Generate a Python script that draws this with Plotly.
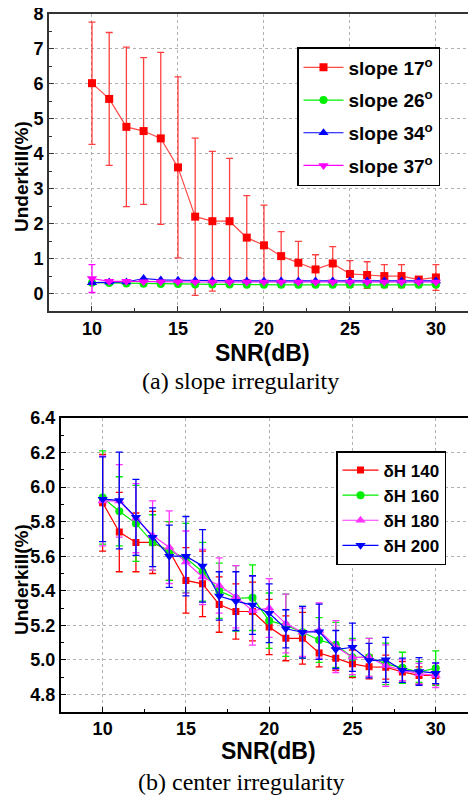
import plotly.graph_objects as go

snr = list(range(10, 31))

# (a) slope irregularity
slope17 = [6.02, 5.57, 4.77, 4.65, 4.44, 3.61, 2.20, 2.07, 2.07, 1.60, 1.38, 1.07, 0.88, 0.69, 0.86, 0.56, 0.53, 0.50, 0.50, 0.40, 0.46]
slope17_err = [1.75, 1.90, 2.28, 2.10, 2.46, 2.59, 2.25, 2.00, 1.80, 1.20, 1.15, 0.70, 0.61, 0.42, 0.48, 0.38, 0.38, 0.33, 0.33, 0.03, 0.37]
slope26 = [0.31, 0.30, 0.29, 0.28, 0.27, 0.27, 0.26, 0.26, 0.26, 0.25, 0.25, 0.25, 0.25, 0.25, 0.25, 0.25, 0.25, 0.25, 0.25, 0.25, 0.25]
slope34 = [0.31, 0.33, 0.33, 0.43, 0.39, 0.38, 0.37, 0.37, 0.37, 0.36, 0.36, 0.36, 0.36, 0.36, 0.36, 0.36, 0.36, 0.36, 0.36, 0.36, 0.36]
slope37 = [0.43, 0.35, 0.35, 0.34, 0.34, 0.34, 0.33, 0.33, 0.33, 0.33, 0.33, 0.33, 0.33, 0.33, 0.33, 0.33, 0.33, 0.33, 0.33, 0.33, 0.33]
slope37_err = [0.40] + [0.02] * 20

# (b) center irregularity
dh140 = [5.91, 5.74, 5.68, 5.68, 5.63, 5.46, 5.44, 5.32, 5.28, 5.28, 5.19, 5.125, 5.125, 5.04, 5.01, 4.977, 4.96, 4.958, 4.93, 4.91, 4.91]
dh140_err = [0.28, 0.23, 0.17, 0.18, 0.17, 0.19, 0.19, 0.16, 0.16, 0.17, 0.16, 0.13, 0.15, 0.08, 0.07, 0.08, 0.07, 0.07, 0.06, 0.05, 0.05]
dh160 = [5.94, 5.86, 5.79, 5.68, 5.63, 5.59, 5.51, 5.40, 5.356, 5.36, 5.227, 5.20, 5.16, 5.115, 5.087, 5.015, 5.015, 4.977, 4.954, 4.93, 4.952]
dh160_err = [0.27, 0.20, 0.22, 0.16, 0.17, 0.20, 0.17, 0.16, 0.19, 0.19, 0.16, 0.18, 0.15, 0.13, 0.13, 0.11, 0.11, 0.12, 0.09, 0.06, 0.10]
dh180 = [5.92, 5.92, 5.82, 5.72, 5.652, 5.566, 5.48, 5.43, 5.365, 5.285, 5.30, 5.21, 5.16, 5.17, 5.077, 5.015, 5.015, 4.967, 4.94, 4.92, 4.91]
dh180_err = [0.26, 0.21, 0.20, 0.20, 0.21, 0.18, 0.16, 0.16, 0.18, 0.20, 0.17, 0.17, 0.14, 0.16, 0.15, 0.10, 0.11, 0.12, 0.06, 0.06, 0.07]
dh200 = [5.93, 5.923, 5.825, 5.71, 5.60, 5.60, 5.544, 5.37, 5.34, 5.317, 5.27, 5.18, 5.16, 5.163, 5.06, 5.073, 4.996, 5.0, 4.94, 4.933, 4.923]
dh200_err = [0.245, 0.28, 0.22, 0.17, 0.18, 0.23, 0.21, 0.14, 0.17, 0.17, 0.17, 0.11, 0.15, 0.16, 0.11, 0.14, 0.10, 0.13, 0.07, 0.08, 0.06]

top_ticks = [0, 1, 2, 3, 4, 5, 6, 7, 8]
bot_ticks = [4.8, 5.0, 5.2, 5.4, 5.6, 5.8, 6.0, 6.2, 6.4]
bot_ticktext = ["4.8", "5.0", "5.2", "5.4", "5.6", "5.8", "6.0", "6.2", "6.4"]
x_ticks = [10, 15, 20, 25, 30]

fig = go.Figure()

def add(y, err, name, color, symbol, size, xa, ya, legend, errcolor=None, linecolor=None, lw=1.2):
    fig.add_trace(go.Scatter(
        x=snr, y=y, name=name, mode="lines+markers",
        line=dict(color=linecolor or color, width=lw),
        marker=dict(color=color, symbol=symbol, size=size, line=dict(width=0)),
        error_y=dict(type="data", array=err, visible=err is not None,
                     color=errcolor or color, thickness=1.3, width=3.5),
        xaxis=xa, yaxis=ya, legend=legend, legendgroup=name,
    ))

add(slope17, slope17_err, "slope 17<sup>o</sup>", "#ff0000", "square", 8, "x", "y", "legend",
    errcolor="rgba(255,0,0,0.75)", linecolor="rgba(255,40,40,0.85)")
add(slope26, None, "slope 26<sup>o</sup>", "#00ee00", "circle", 8, "x", "y", "legend")
add(slope34, None, "slope 34<sup>o</sup>", "#0000ff", "triangle-up", 9, "x", "y", "legend")
add(slope37, slope37_err, "slope 37<sup>o</sup>", "#ff00ff", "triangle-down", 9, "x", "y", "legend")

add(dh140, dh140_err, "δH 140", "#ff0000", "square", 7, "x2", "y2", "legend2")
add(dh160, dh160_err, "δH 160", "#00ee00", "circle", 8, "x2", "y2", "legend2")
add(dh180, dh180_err, "δH 180", "#ff33ff", "triangle-up", 9, "x2", "y2", "legend2")
add(dh200, dh200_err, "δH 200", "#0000ff", "triangle-down", 9, "x2", "y2", "legend2")

tickfont = dict(family="Liberation Sans", size=18, color="black", weight="bold")
grid = dict(showgrid=True, gridcolor="#b0b0b0", griddash="dot", gridwidth=1, zeroline=False,
            automargin=False, ticklabeloverflow="allow")

# the page body has an 8px margin: figure occupies window pixels 8..476 / 8..796
OFF = 8
W, H = 476 - OFF, 796 - OFF

def X(px):
    return (px - OFF) / W

def Y(py):
    return 1 - (py - OFF) / H

fig.update_layout(
    width=W, height=H, margin=dict(l=0, r=0, t=0, b=0, autoexpand=False),
    paper_bgcolor="white", plot_bgcolor="white", showlegend=True,
    xaxis=dict(domain=[X(49), 1], range=[7.5, 32.33], tickvals=x_ticks, anchor="y",
               showline=True, linecolor="#333", linewidth=2, mirror=True,
               ticks="inside", ticklen=5, tickcolor="#333", tickfont=tickfont,
               minor=dict(ticks="inside", ticklen=3, dtick=2.5, tickcolor="#333", showgrid=False),
               **grid),
    yaxis=dict(domain=[Y(311), Y(14)], range=[-0.5, 8], tickvals=top_ticks, anchor="x",
               showline=True, linecolor="#333", linewidth=2,
               ticks="inside", ticklen=5, tickcolor="#333", tickfont=tickfont,
               minor=dict(ticks="inside", ticklen=3, dtick=0.5, tickcolor="#333", showgrid=False),
               **grid),
    xaxis2=dict(domain=[X(61), 1], range=[7.5, 32.42], tickvals=x_ticks, anchor="y2",
                showline=True, linecolor="black", linewidth=2, mirror=True,
                ticks="inside", ticklen=5, tickcolor="black", tickfont=tickfont,
                minor=dict(ticks="inside", ticklen=3, dtick=2.5, tickcolor="black", showgrid=False),
                **grid),
    yaxis2=dict(domain=[Y(711.7), Y(418)], range=[4.7, 6.4], tickvals=bot_ticks,
                ticktext=bot_ticktext, anchor="x2",
                showline=True, linecolor="black", linewidth=2,
                ticks="inside", ticklen=5, tickcolor="black", tickfont=tickfont,
                minor=dict(ticks="inside", ticklen=3, dtick=0.1, tickcolor="black", showgrid=False),
                **grid),
    legend=dict(x=X(297), y=Y(47), xanchor="left", yanchor="top",
                bgcolor="white", bordercolor="black", borderwidth=1.5,
                font=dict(family="Liberation Sans", size=19, color="black", weight="bold"),
                tracegroupgap=5, itemwidth=40),
    legend2=dict(x=X(336), y=Y(451), xanchor="left", yanchor="top",
                 bgcolor="white", bordercolor="black", borderwidth=1.5,
                 font=dict(family="Liberation Sans", size=17, color="black", weight="bold"),
                 tracegroupgap=0, itemwidth=36),
)

annos = [
    dict(text="Underkill(%)", x=X(21), y=Y(177), textangle=-90,
         font=dict(family="Liberation Sans", size=19, color="black", weight="bold")),
    dict(text="SNR(dB)", x=X(263), y=Y(353),
         font=dict(family="Liberation Sans", size=23, color="black", weight="bold")),
    dict(text="(a) slope irregularity", x=X(240), y=Y(381),
         font=dict(family="Liberation Serif", size=24, color="black")),
    dict(text="Underkill(%)", x=X(21), y=Y(580), textangle=-90,
         font=dict(family="Liberation Sans", size=19, color="black", weight="bold")),
    dict(text="SNR(dB)", x=X(268), y=Y(751),
         font=dict(family="Liberation Sans", size=23, color="black", weight="bold")),
    dict(text="(b) center irregularity", x=X(241), y=Y(782),
         font=dict(family="Liberation Serif", size=24, color="black")),
]
for a in annos:
    fig.add_annotation(xref="paper", yref="paper", showarrow=False,
                       xanchor="center", yanchor="middle", **a)

fig.write_html("out.html")
